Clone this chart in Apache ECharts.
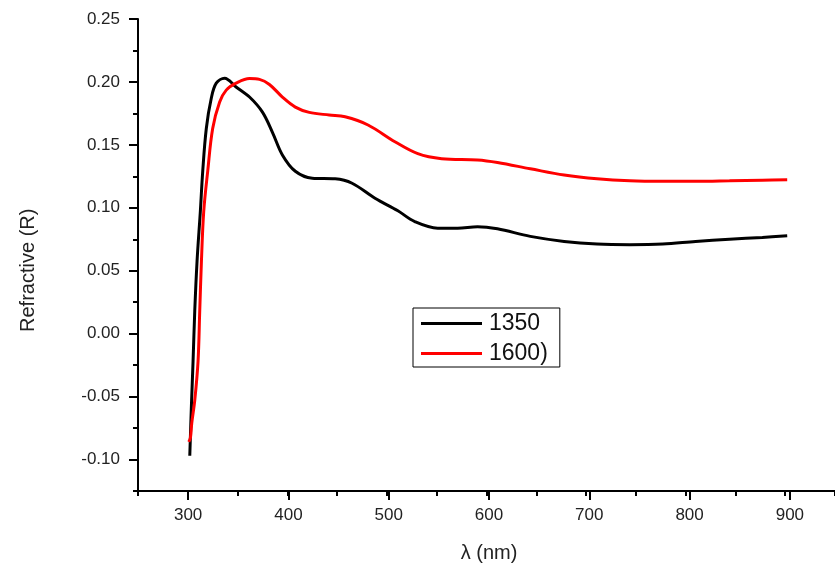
<!DOCTYPE html>
<html>
<head>
    <meta charset="utf-8">
    <script src="https://cdn.jsdelivr.net/npm/echarts@6/dist/echarts.min.js"></script>
    <style>
        html, body { margin: 0; padding: 0; background: #fff; }
        #main { width: 835px; height: 568px; }
    </style>
</head>
<body>
    <div id="main"></div>
    <script type="text/javascript">
        // wavelength (nm) and reflectance
        var wl1350 = [302, 303.7, 305.3, 307, 309.3, 312.6, 315, 318.6, 323.6, 328.6, 337, 348.5, 362, 375, 385, 395, 408, 425, 448, 465, 488, 511, 528, 551, 571, 591, 611, 644, 678, 711, 744, 777, 810, 844, 877, 902];
        var r1350 = [-0.097, -0.056, -0.022, 0.018, 0.0575, 0.097, 0.129, 0.163, 0.187, 0.199, 0.203, 0.196, 0.188, 0.176, 0.160, 0.142, 0.129, 0.1235, 0.123, 0.1195, 0.1076, 0.0976, 0.089, 0.0838, 0.0838, 0.085, 0.0833, 0.0773, 0.0733, 0.0712, 0.0707, 0.0712, 0.0733, 0.0751, 0.0765, 0.0778];

        var wl1600 = [301, 302.7, 304, 307, 310.3, 312, 313.7, 316, 320, 325, 332, 338.6, 348.5, 362, 372, 382, 395, 408, 422, 442, 458, 481, 508, 531, 555, 591, 611, 644, 678, 711, 744, 777, 810, 844, 877, 902];
        var r1600 = [-0.086, -0.0825, -0.071, -0.053, -0.022, 0.018, 0.0575, 0.097, 0.129, 0.163, 0.184, 0.1935, 0.199, 0.2027, 0.202, 0.198, 0.188, 0.180, 0.1758, 0.1737, 0.1723, 0.1658, 0.1525, 0.143, 0.139, 0.138, 0.136, 0.131, 0.126, 0.123, 0.1214, 0.121, 0.121, 0.1214, 0.1219, 0.1222];

        var seriesNames = ['1350', '1600)'];
        var colors = ['#000000', '#ff0000'];

        // axis ranges
        var xMin = 250, xMax = 950, xLabMin = 300, xLabMax = 900;
        var yMin = -0.125, yMax = 0.25, yLabMin = -0.10;

        function pairs(xs, ys) {
            return xs.map(function (x, i) { return [x, ys[i]]; });
        }

        var myChart = echarts.init(document.getElementById('main'));

        var font = 'Liberation Sans, Arial, sans-serif';
        var gLeft = 138, gTop = 19, gW = 702, gH = 472;
        var pxX = gW / (xMax - xMin);
        var pxY = gH / (yMax - yMin);

        var blackLine = { color: '#000', width: 2 };
        var hidden = { show: false };

        myChart.setOption({
            animation: false,
            grid: [
                // data grid, minor ticks
                { left: gLeft, top: gTop, width: gW, height: gH },
                // grid whose x range starts at a round value: major x ticks + labels
                { left: gLeft + (xLabMin - xMin) * pxX, top: gTop, width: (xLabMax - xLabMin) * pxX, height: gH },
                // grid whose y range starts at a round value: major y ticks + labels
                { left: gLeft, top: gTop, width: gW, height: (yMax - yLabMin) * pxY }
            ],
            legend: {
                data: seriesNames,
                orient: 'vertical',
                left: 413,
                top: 308,
                icon: 'rect',
                itemWidth: 61,
                itemHeight: 3,
                itemGap: 7,
                padding: [4, 12, 2, 8],
                borderColor: '#000',
                borderWidth: 1,
                textStyle: { fontFamily: font, fontSize: 23, color: '#111', padding: [0, 0, 0, 2] }
            },
            xAxis: [
                {
                    gridIndex: 0, type: 'value', min: xMin, max: xMax, interval: 50,
                    splitLine: hidden,
                    axisLine: { show: true, onZero: false, lineStyle: blackLine },
                    axisTick: { length: 5, lineStyle: blackLine },
                    axisLabel: hidden
                },
                {
                    gridIndex: 1, type: 'value', min: xLabMin, max: xLabMax, interval: 100,
                    splitLine: hidden,
                    axisLine: { show: false, onZero: false },
                    axisTick: { show: true, length: 9, lineStyle: blackLine },
                    axisLabel: { margin: 16, fontFamily: font, fontSize: 17, color: '#222' },
                    name: 'λ (nm)',
                    nameLocation: 'middle',
                    nameGap: 52,
                    nameTextStyle: { fontFamily: font, fontSize: 20, color: '#222' }
                },
                {
                    gridIndex: 2, type: 'value', min: xMin, max: xMax, show: false
                }
            ],
            yAxis: [
                {
                    gridIndex: 0, type: 'value', min: yMin, max: yMax, interval: 0.025,
                    splitLine: hidden,
                    axisLine: { show: true, onZero: false, lineStyle: blackLine },
                    axisTick: { length: 5, lineStyle: blackLine },
                    axisLabel: hidden
                },
                {
                    gridIndex: 1, type: 'value', min: yMin, max: yMax, show: false
                },
                {
                    gridIndex: 2, type: 'value', min: yLabMin, max: yMax, interval: 0.05,
                    splitLine: hidden,
                    axisLine: { show: false, onZero: false },
                    axisTick: { show: true, length: 9, lineStyle: blackLine },
                    axisLabel: {
                        margin: 18, fontFamily: font, fontSize: 17, color: '#222',
                        formatter: function (v) { return v.toFixed(2); }
                    },
                    name: 'Refractive (R)',
                    nameLocation: 'middle',
                    nameGap: 100,
                    nameTextStyle: { fontFamily: font, fontSize: 20, color: '#222', padding: [0, 62, 0, 0] }
                }
            ],
            series: [
                {
                    name: seriesNames[0],
                    type: 'line',
                    showSymbol: false,
                    smooth: 0.35,
                    lineStyle: { width: 3, color: colors[0] },
                    itemStyle: { color: colors[0] },
                    data: pairs(wl1350, r1350)
                },
                {
                    name: seriesNames[1],
                    type: 'line',
                    showSymbol: false,
                    smooth: 0.35,
                    lineStyle: { width: 3, color: colors[1] },
                    itemStyle: { color: colors[1] },
                    data: pairs(wl1600, r1600)
                }
            ]
        });
    </script>
</body>
</html>
